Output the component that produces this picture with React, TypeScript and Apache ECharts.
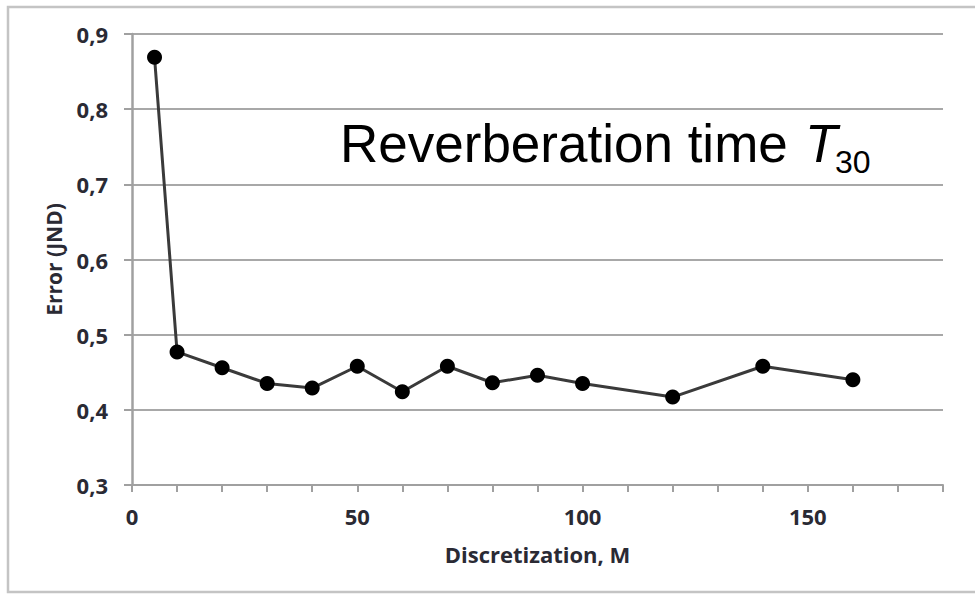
import React, { useEffect, useRef } from "react";
import * as echarts from "echarts";

const discretization = [5, 10, 20, 30, 40, 50, 60, 70, 80, 90, 100, 120, 140, 160];
const errorJND = [0.869, 0.477, 0.456, 0.435, 0.429, 0.458, 0.424, 0.458, 0.436, 0.446, 0.435, 0.417, 0.458, 0.44];
const xLabelValues = [0, 50, 100, 150];

export default function App() {
  const ref = useRef<HTMLDivElement>(null);
  useEffect(() => {
    if (!ref.current) return;
    const chart = echarts.init(ref.current, null, { renderer: "svg" });
    const labelColor = "#2a2a34";
    const font = "'Open Sans', 'Noto Sans', sans-serif";
    chart.setOption({
      animation: false,
      backgroundColor: "#ffffff",
      grid: { left: 132, right: 32, top: 34, bottom: 110, containLabel: false },
      xAxis: {
        type: "value",
        min: 0,
        max: 180,
        interval: 10,
        name: "Discretization, M",
        nameLocation: "middle",
        nameGap: 58,
        nameTextStyle: { fontFamily: font, fontWeight: "bold", fontSize: 22, color: labelColor },
        axisLine: { show: true, lineStyle: { color: "#a0a0a0", width: 2 } },
        axisTick: { show: true, inside: false, length: 7, lineStyle: { color: "#a0a0a0", width: 2 } },
        axisLabel: {
          margin: 20,
          fontFamily: font,
          fontWeight: "bold",
          fontSize: 22,
          color: labelColor,
          formatter: (v: number) => (xLabelValues.includes(v) ? String(v) : ""),
        },
        splitLine: { show: false },
      },
      yAxis: {
        type: "value",
        min: 0.3,
        max: 0.9,
        interval: 0.1,
        name: "Error (JND)",
        nameLocation: "middle",
        nameGap: 68,
        nameTextStyle: { fontFamily: font, fontWeight: "bold", fontSize: 21, color: labelColor },
        axisLine: { show: true, lineStyle: { color: "#a0a0a0", width: 2.5 } },
        axisTick: { show: true, inside: false, length: 8, lineStyle: { color: "#a0a0a0", width: 2 } },
        axisLabel: {
          margin: 24,
          fontFamily: font,
          fontWeight: "bold",
          fontSize: 22,
          color: labelColor,
          formatter: (v: number) => v.toFixed(1).replace(".", ","),
        },
        splitLine: { show: true, lineStyle: { color: "#a8a8a8", width: 2 } },
      },
      series: [
        {
          type: "line",
          data: discretization.map((x, i) => [x, errorJND[i]]),
          symbol: "circle",
          symbolSize: 15,
          itemStyle: { color: "#000000" },
          lineStyle: { color: "#3a3a3a", width: 3 },
          z: 5,
        },
      ],
      graphic: [
        {
          type: "rect",
          shape: { x: 8, y: 7, width: 1000, height: 585 },
          style: { fill: "none", stroke: "#c4c4c4", lineWidth: 2.5 },
          silent: true,
          z: -1,
        },
        {
          type: "text",
          x: 340,
          y: 143,
          style: {
            text: "Reverberation time",
            font: "53px 'Liberation Sans', Arial, sans-serif",
            fill: "#000000",
            align: "left",
            verticalAlign: "middle",
          },
          z: 10,
        },
        {
          type: "text",
          x: 805,
          y: 143,
          style: {
            text: "T",
            font: "italic 53px 'Liberation Sans', Arial, sans-serif",
            fill: "#000000",
            align: "left",
            verticalAlign: "middle",
          },
          z: 10,
        },
        {
          type: "text",
          x: 835,
          y: 162,
          style: {
            text: "30",
            font: "32px 'Liberation Sans', Arial, sans-serif",
            fill: "#000000",
            align: "left",
            verticalAlign: "middle",
          },
          z: 10,
        },
      ],
    });
    return () => chart.dispose();
  }, []);
  return (
    <div
      ref={ref}
      style={{ position: "fixed", left: 0, top: 0, width: 975, height: 595, background: "#fff" }}
    />
  );
}
